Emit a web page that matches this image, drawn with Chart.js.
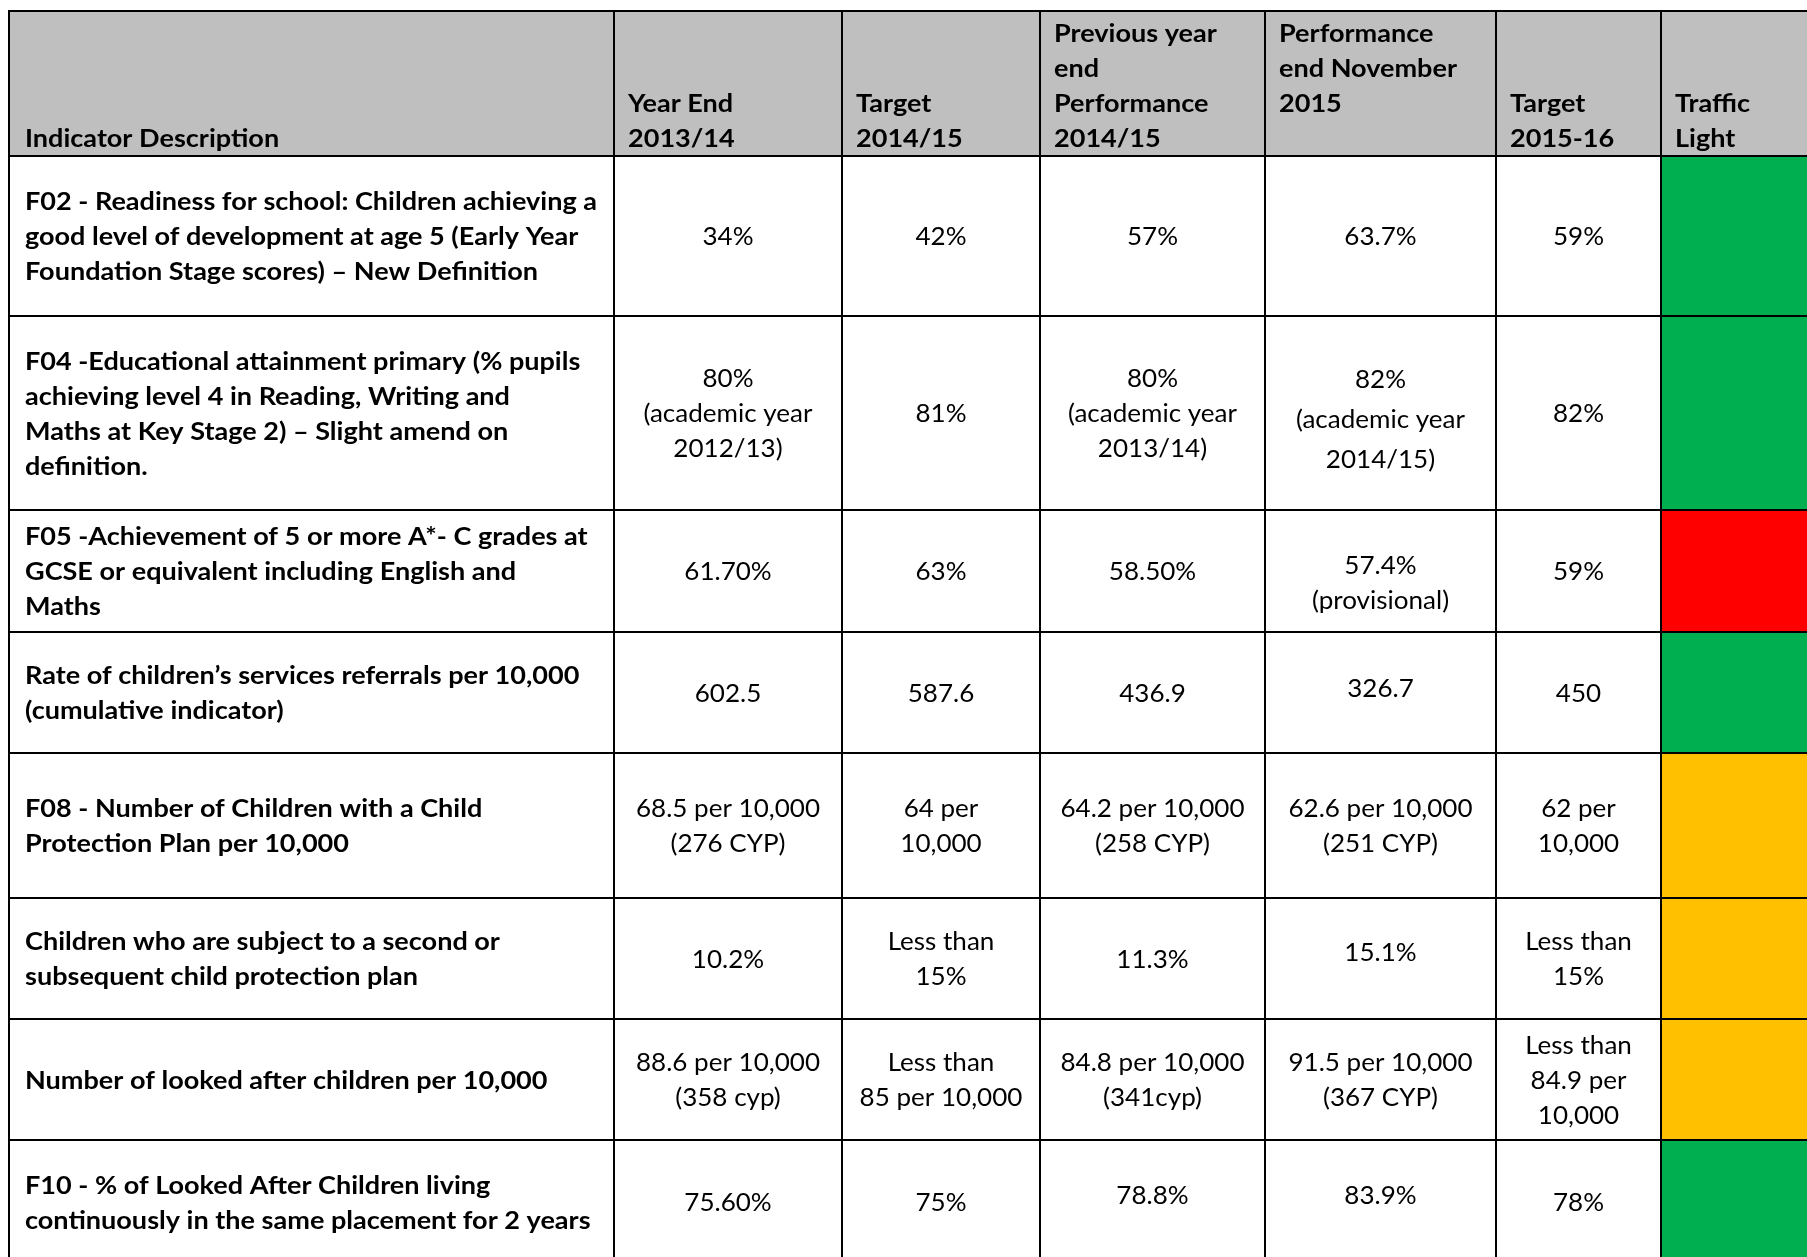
<!DOCTYPE html>
<html>
<head>
<meta charset="utf-8">
<script src="https://cdn.jsdelivr.net/npm/chart.js@4.4.1/dist/chart.umd.min.js"></script>
<style>
html,body{margin:0;padding:0;background:#fff;overflow:hidden}
canvas{display:block}
</style>
</head>
<body>
<canvas id="c" width="1807" height="1257"></canvas>
<script>
// ---------------- DATA ----------------
const headers = [
  "Indicator Description",
  "Year End\n2013/14",
  "Target\n2014/15",
  "Previous year\nend\nPerformance\n2014/15",
  "Performance\nend November\n2015\n",
  "Target\n2015-16",
  "Traffic\nLight"
];
const indicators = [
  "F02 - Readiness for school: Children achieving a\ngood level of development at age 5 (Early Year\nFoundation Stage scores) \u2013 New Definition",
  "F04 -Educational attainment primary (% pupils\nachieving level 4 in Reading, Writing and\nMaths at Key Stage 2) \u2013 Slight amend on\ndefinition.",
  "F05 -Achievement of 5 or more A*- C grades at\nGCSE or equivalent including English and\nMaths",
  "Rate of children\u2019s services referrals per 10,000\n(cumulative indicator)",
  "F08 - Number of Children with a Child\nProtection Plan per 10,000",
  "Children who are subject to a second or\nsubsequent child protection plan",
  "Number of looked after children per 10,000",
  "F10 - % of Looked After Children living\ncontinuously in the same placement for 2 years"
];
const yearEnd1314 = ["34%", "80%\n(academic year\n2012/13)", "61.70%", "602.5", "68.5 per 10,000\n(276 CYP)", "10.2%", "88.6 per 10,000\n(358 cyp)", "75.60%"];
const target1415 = ["42%", "81%", "63%", "587.6", "64 per\n10,000", "Less than\n15%", "Less than\n85 per 10,000", "75%"];
const prevYear1415 = ["57%", "80%\n(academic year\n2013/14)", "58.50%", "436.9", "64.2 per 10,000\n(258 CYP)", "11.3%", "84.8 per 10,000\n(341cyp)", "78.8%"];
const perfNov2015 = ["63.7%", "82%\n(academic year\n2014/15)", "57.4%\n(provisional)", "326.7", "62.6 per 10,000\n(251 CYP)", "15.1%", "91.5 per 10,000\n(367 CYP)", "83.9%"];
const target1516 = ["59%", "82%", "59%", "450", "62 per\n10,000", "Less than\n15%", "Less than\n84.9 per\n10,000", "78%"];
const trafficLight = ["Green", "Green", "Red", "Green", "Amber", "Amber", "Amber", "Green"];

// ---------------- LAYOUT / STYLE ----------------
const W = 1807, H = 1257;
const colEdges = [9, 614, 842, 1040, 1265, 1496, 1661, 1861];
const rowEdges = [11, 156, 316, 510, 632, 753, 898, 1019, 1140, 1264];
const LINE = 35;
const lightColours = {Green: "#00B050", Red: "#FF0000", Amber: "#FFC000"};
const headerFill = "#BFBFBF";
const boldFont = "bold 25px Lato";
const normFont = "25px Lato";
const boldCalib = ["F02 - Readiness for school: Children achieving a", 572];
const normCalib = ["68.5 per 10,000", 184];
// per-cell vertical adjustments [row, valueColumn, dy, lineGap]
const cellAdjust = [[1, 3, 6, 40], [2, 3, 11, 35], [3, 3, -5, 35], [5, 3, -7, 35], [7, 2, -7, 35], [7, 3, -7, 35]];

const valueColumns = [yearEnd1314, target1415, prevYear1415, perfNov2015, target1516];

function drawLines(ctx, text, x, yCenter, gap, sx, align) {
  const lines = text.split("\n");
  const n = lines.length;
  ctx.textAlign = align;
  ctx.textBaseline = "alphabetic";
  lines.forEach((ln, i) => {
    const yc = yCenter + (i - (n - 1) / 2) * gap;
    ctx.save();
    ctx.translate(x, yc + 9);
    ctx.scale(sx, 1);
    ctx.fillText(ln, 0, 0);
    ctx.restore();
  });
}

const tablePlugin = {
  id: "tablePlugin",
  beforeDatasetsDraw(chart) {
    const {ctx, scales: {x, y}} = chart;
    ctx.save();
    ctx.fillStyle = headerFill;
    const x0 = x.getPixelForValue(colEdges[0]);
    const x1 = x.getPixelForValue(colEdges[colEdges.length - 1]);
    const y0 = y.getPixelForValue(rowEdges[0]);
    const y1 = y.getPixelForValue(rowEdges[1]);
    ctx.fillRect(x0, y0, x1 - x0, y1 - y0);
    ctx.restore();
  },
  afterDatasetsDraw(chart) {
    const {ctx, scales: {x, y}} = chart;
    ctx.save();
    // grid lines
    ctx.strokeStyle = "#000";
    ctx.lineWidth = 2;
    const xL = x.getPixelForValue(colEdges[0]);
    const xR = x.getPixelForValue(colEdges[colEdges.length - 1]);
    const yT = y.getPixelForValue(rowEdges[0]);
    const yB = y.getPixelForValue(rowEdges[rowEdges.length - 1]);
    rowEdges.forEach(r => {
      const py = y.getPixelForValue(r);
      ctx.beginPath(); ctx.moveTo(xL - 1, py); ctx.lineTo(xR, py); ctx.stroke();
    });
    colEdges.slice(0, -1).forEach(c => {
      const px = x.getPixelForValue(c);
      ctx.beginPath(); ctx.moveTo(px, yT - 1); ctx.lineTo(px, yB); ctx.stroke();
    });

    // text
    ctx.fillStyle = "#000";
    ctx.font = boldFont;
    const sxB = boldCalib[1] / ctx.measureText(boldCalib[0]).width;
    ctx.font = normFont;
    const sxN = normCalib[1] / ctx.measureText(normCalib[0]).width;

    // header (bottom aligned)
    ctx.font = boldFont;
    const hb = y.getPixelForValue(rowEdges[1]);
    headers.forEach((h, c) => {
      const lines = h.split("\n");
      const n = lines.length;
      const lastCenter = hb - 18;
      const center = lastCenter - (n - 1) / 2 * LINE;
      const pad = c === 0 ? 16 : 14;
      drawLines(ctx, h, x.getPixelForValue(colEdges[c]) + pad, center, LINE, sxB, "left");
    });

    // indicator descriptions
    indicators.forEach((t, r) => {
      const yc = (y.getPixelForValue(rowEdges[r + 1]) + y.getPixelForValue(rowEdges[r + 2])) / 2;
      drawLines(ctx, t, x.getPixelForValue(colEdges[0]) + 16, yc, LINE, sxB, "left");
    });

    // values
    ctx.font = normFont;
    valueColumns.forEach((col, ci) => {
      const xc = (x.getPixelForValue(colEdges[ci + 1]) + x.getPixelForValue(colEdges[ci + 2])) / 2;
      col.forEach((v, r) => {
        let yc = (y.getPixelForValue(rowEdges[r + 1]) + y.getPixelForValue(rowEdges[r + 2])) / 2;
        let gap = LINE;
        const adj = cellAdjust.find(a => a[0] === r && a[1] === ci);
        if (adj) { yc += adj[2]; gap = adj[3]; }
        drawLines(ctx, v, xc, yc, gap, sxN, "center");
      });
    });
    ctx.restore();
  }
};

function build() {
  const tlCol = 6;
  const tlData = trafficLight.map((t, r) => ({
    x: (colEdges[tlCol] + colEdges[tlCol + 1]) / 2,
    y: [rowEdges[r + 1], rowEdges[r + 2]]
  }));
  new Chart(document.getElementById("c"), {
    type: "bar",
    data: {
      datasets: [{
        label: "Traffic Light",
        data: tlData,
        backgroundColor: trafficLight.map(t => lightColours[t]),
        borderWidth: 0,
        barThickness: colEdges[tlCol + 1] - colEdges[tlCol]
      }]
    },
    options: {
      responsive: false,
      animation: false,
      events: [],
      layout: {padding: 0},
      plugins: {legend: {display: false}, tooltip: {enabled: false}},
      scales: {
        x: {type: "linear", min: 0, max: W, display: false, offset: false, grid: {offset: false}},
        y: {type: "linear", min: 0, max: H, reverse: true, display: false, offset: false}
      }
    },
    plugins: [tablePlugin]
  });
}

Promise.all([document.fonts.load(boldFont), document.fonts.load(normFont)]).finally(build);
</script>
</body>
</html>
